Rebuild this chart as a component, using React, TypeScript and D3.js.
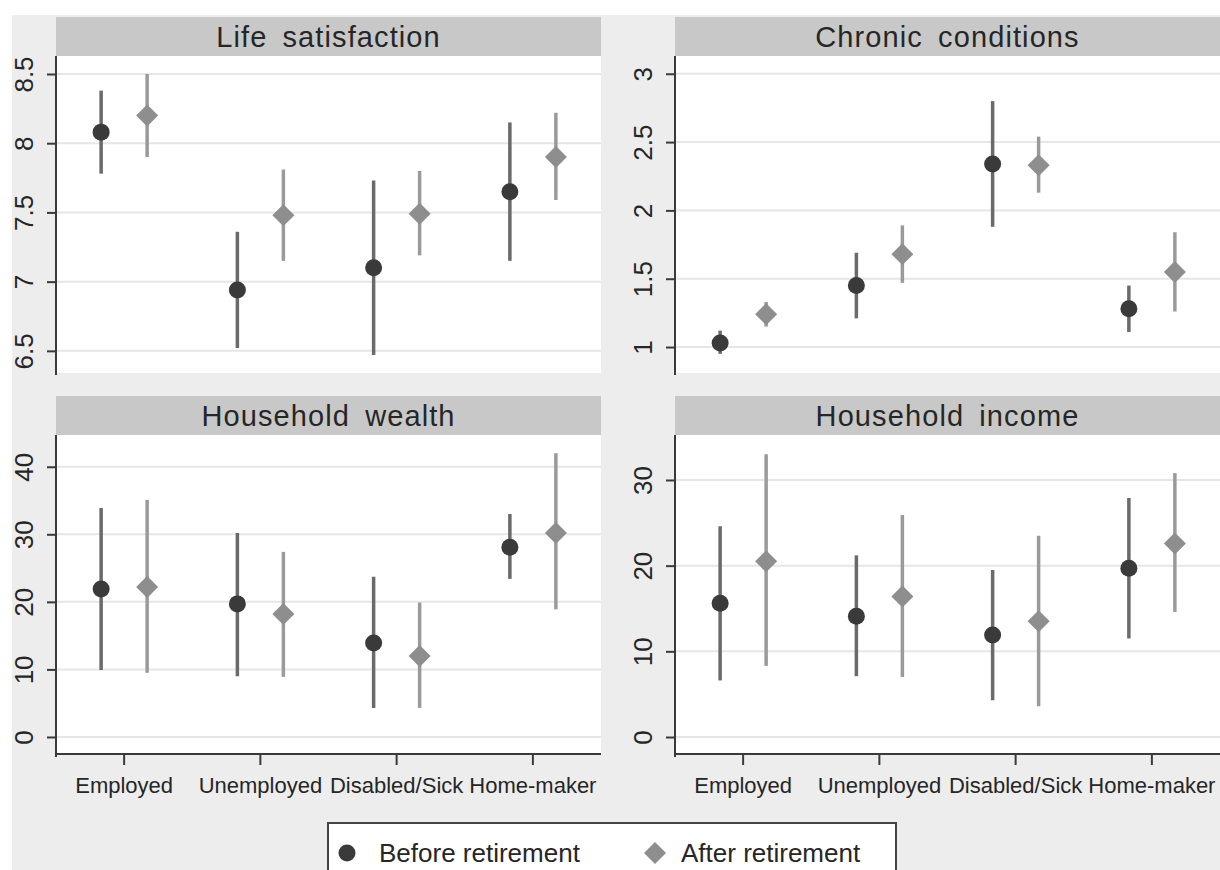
import React, { useEffect, useRef } from 'react';
import * as d3 from 'd3';

// categories on the x axis
const categories = ['Employed', 'Unemployed', 'Disabled/Sick', 'Home-maker'];

// each entry: [lower CI, estimate, upper CI]
const lifeBefore = [[7.78, 8.08, 8.38], [6.52, 6.94, 7.36], [6.47, 7.1, 7.73], [7.15, 7.65, 8.15]];
const lifeAfter = [[7.9, 8.2, 8.5], [7.15, 7.48, 7.81], [7.19, 7.49, 7.8], [7.59, 7.9, 8.22]];

const chronicBefore = [[0.95, 1.03, 1.12], [1.21, 1.45, 1.69], [1.88, 2.34, 2.8], [1.11, 1.28, 1.45]];
const chronicAfter = [[1.15, 1.24, 1.33], [1.47, 1.68, 1.89], [2.13, 2.33, 2.54], [1.26, 1.55, 1.84]];

const wealthBefore = [[9.9, 21.9, 33.9], [9.0, 19.7, 30.2], [4.3, 13.9, 23.7], [23.4, 28.1, 33.0]];
const wealthAfter = [[9.5, 22.2, 35.1], [8.9, 18.2, 27.4], [4.3, 12.0, 19.9], [18.9, 30.2, 42.0]];

const incomeBefore = [[6.6, 15.6, 24.6], [7.1, 14.1, 21.2], [4.3, 11.9, 19.5], [11.5, 19.7, 27.9]];
const incomeAfter = [[8.3, 20.5, 33.0], [7.0, 16.4, 25.9], [3.6, 13.5, 23.5], [14.6, 22.6, 30.8]];

// y ticks per panel
const lifeTicks = [6.5, 7, 7.5, 8, 8.5];
const chronicTicks = [1, 1.5, 2, 2.5, 3];
const wealthTicks = [0, 10, 20, 30, 40];
const incomeTicks = [0, 10, 20, 30];

const seriesNames = ['Before retirement', 'After retirement'];

const W = 1220;
const H = 870;
const PW = 545;

const panels = [
  { title: 'Life satisfaction', x0: 56, top: 56, bottom: 373, domain: [6.34, 8.63], ticks: lifeTicks, before: lifeBefore, after: lifeAfter, xAxis: false },
  { title: 'Chronic conditions', x0: 675, top: 56, bottom: 373, domain: [0.81, 3.13], ticks: chronicTicks, before: chronicBefore, after: chronicAfter, xAxis: false },
  { title: 'Household wealth', x0: 56, top: 435, bottom: 755, domain: [-2.67, 44.7], ticks: wealthTicks, before: wealthBefore, after: wealthAfter, xAxis: true },
  { title: 'Household income', x0: 675, top: 435, bottom: 755, domain: [-2.1, 35.25], ticks: incomeTicks, before: incomeBefore, after: incomeAfter, xAxis: true },
];

const BG = '#ededed';
const STRIP = '#c8c8c8';
const DARK = '#3a3a3a';
const BEFORE_LINE = '#6a6a6a';
const AFTER_LINE = '#9a9a9a';
const AFTER_FILL = '#8e8e8e';
const FONT = 'Arial, "Liberation Sans", Helvetica, sans-serif';

const App: React.FC = () => {
  const svgRef = useRef<SVGSVGElement>(null);

  useEffect(() => {
    if (!svgRef.current) return;
    const svg = d3.select(svgRef.current);
    svg.selectAll('*').remove();

    svg.append('rect').attr('width', W).attr('height', H).attr('fill', '#ffffff');
    svg.append('rect').attr('x', 12).attr('y', 15).attr('width', W - 12).attr('height', H - 15).attr('fill', BG);

    const diamond = d3.symbol().type(d3.symbolSquare).size(242);

    panels.forEach((p) => {
      const g = svg.append('g');
      const x = d3.scaleBand<string>().domain(categories).range([p.x0, p.x0 + PW]);
      const y = d3.scaleLinear().domain(p.domain).range([p.bottom, p.top]);
      const cx = (c: string) => (x(c) || 0) + x.bandwidth() / 2;

      // strip
      const stripTop = p.top - 39;
      g.append('rect')
        .attr('x', p.x0)
        .attr('y', stripTop)
        .attr('width', PW)
        .attr('height', 39)
        .attr('fill', STRIP);
      g.append('text')
        .attr('x', p.x0 + PW / 2)
        .attr('y', stripTop + 30)
        .attr('text-anchor', 'middle')
        .attr('font-family', FONT)
        .attr('font-size', 29)
        .attr('letter-spacing', 1.1)
        .attr('word-spacing', 6)
        .attr('fill', '#262626')
        .text(p.title);

      // plot region
      g.append('rect')
        .attr('x', p.x0)
        .attr('y', p.top)
        .attr('width', PW)
        .attr('height', p.bottom - p.top)
        .attr('fill', '#ffffff');

      // grid
      g.selectAll('.grid')
        .data(p.ticks)
        .enter()
        .append('line')
        .attr('x1', p.x0)
        .attr('x2', p.x0 + PW)
        .attr('y1', (d) => y(d))
        .attr('y2', (d) => y(d))
        .attr('stroke', '#e6e6e6')
        .attr('stroke-width', 2);

      // y axis
      const yAxis = g
        .append('g')
        .attr('transform', `translate(${p.x0},0)`)
        .call(d3.axisLeft(y).tickValues(p.ticks).tickSize(9).tickFormat((d) => String(d)));
      yAxis.select('.domain').attr('stroke', DARK).attr('stroke-width', 2).attr('d', `M0,${p.top}V${p.bottom + 2}`);
      yAxis.selectAll('.tick line').attr('stroke', DARK).attr('stroke-width', 2);
      yAxis
        .selectAll('.tick text')
        .attr('font-family', FONT)
        .attr('font-size', 26)
        .attr('fill', '#262626')
        .attr('x', null)
        .attr('dy', null)
        .attr('text-anchor', 'middle')
        .attr('transform', 'translate(-23,0) rotate(-90)');

      // x axis
      if (p.xAxis) {
        const xAxis = g
          .append('g')
          .attr('transform', `translate(0,${p.bottom - 1})`)
          .call(d3.axisBottom(x).tickSize(11).tickSizeOuter(0));
        xAxis.select('.domain').attr('stroke', DARK).attr('stroke-width', 2).attr('d', `M${p.x0 - 1},0H${p.x0 + PW}`);
        xAxis.selectAll('.tick line').attr('stroke', DARK).attr('stroke-width', 2);
        xAxis
          .selectAll('.tick text')
          .attr('font-family', FONT)
          .attr('font-size', 22)
          .attr('fill', '#262626')
          .attr('y', 39)
          .attr('dy', null);
      }

      // confidence intervals
      g.selectAll('.ciBefore')
        .data(p.before)
        .enter()
        .append('line')
        .attr('x1', (_, i) => cx(categories[i]) - 23)
        .attr('x2', (_, i) => cx(categories[i]) - 23)
        .attr('y1', (d) => y(d[0]))
        .attr('y2', (d) => y(d[2]))
        .attr('stroke', BEFORE_LINE)
        .attr('stroke-width', 3.5);
      g.selectAll('.ciAfter')
        .data(p.after)
        .enter()
        .append('line')
        .attr('x1', (_, i) => cx(categories[i]) + 23)
        .attr('x2', (_, i) => cx(categories[i]) + 23)
        .attr('y1', (d) => y(d[0]))
        .attr('y2', (d) => y(d[2]))
        .attr('stroke', AFTER_LINE)
        .attr('stroke-width', 3.5);

      // markers
      g.selectAll('.ptBefore')
        .data(p.before)
        .enter()
        .append('circle')
        .attr('cx', (_, i) => cx(categories[i]) - 23)
        .attr('cy', (d) => y(d[1]))
        .attr('r', 8.5)
        .attr('fill', DARK);
      g.selectAll('.ptAfter')
        .data(p.after)
        .enter()
        .append('path')
        .attr('d', diamond)
        .attr('transform', (d, i) => `translate(${cx(categories[i]) + 23},${y(d[1])}) rotate(45)`)
        .attr('fill', AFTER_FILL);
    });

    // legend
    const lg = svg.append('g');
    lg.append('rect')
      .attr('x', 328)
      .attr('y', 823)
      .attr('width', 568)
      .attr('height', 70)
      .attr('fill', '#ffffff')
      .attr('stroke', '#444444')
      .attr('stroke-width', 2);
    lg.append('circle').attr('cx', 347).attr('cy', 853).attr('r', 8.5).attr('fill', DARK);
    lg.append('path').attr('d', diamond).attr('transform', 'translate(655,853) rotate(45)').attr('fill', AFTER_FILL);
    lg.selectAll('.legText')
      .data(seriesNames)
      .enter()
      .append('text')
      .attr('x', (_, i) => (i === 0 ? 379 : 681))
      .attr('y', 862)
      .attr('font-family', FONT)
      .attr('font-size', 26)
      .attr('fill', '#262626')
      .text((d) => d);
  }, []);

  return (
    <svg
      ref={svgRef}
      width={W}
      height={H}
      style={{ position: 'absolute', left: 0, top: 0, display: 'block' }}
    ></svg>
  );
};

export default App;
